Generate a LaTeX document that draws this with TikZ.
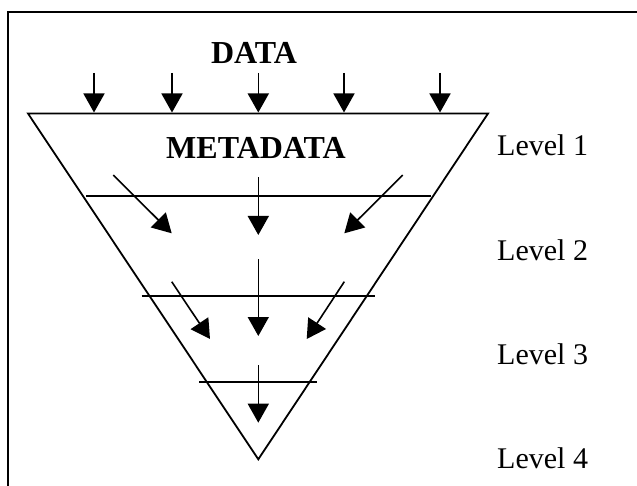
\documentclass[tikz,border=0pt]{standalone}
\usepackage{fontspec}
\setmainfont{Liberation Serif}
\usetikzlibrary{arrows.meta}
\begin{document}
\begin{tikzpicture}[x=1pt,y=-1pt,
  frame/.style={line width=2pt},
  edge/.style={line width=1.8pt,line join=miter},
  flow/.style={line width=1.6pt,-{Triangle[length=19pt,width=21pt]}},
  title/.style={font=\fontsize{32}{38}\selectfont\bfseries,inner sep=0pt,anchor=base},
  lvl/.style={font=\fontsize{30}{36}\selectfont,inner sep=0pt,anchor=base west}]
\useasboundingbox (0,0) rectangle (637,486);
% frame (cropped box)
\coordinate (fb) at (8,486);
\coordinate (ftl) at (8,12);
\coordinate (ftr) at (637,12);
\draw[frame] (fb) -- (ftl) -- (ftr);
% funnel
\coordinate (TL) at (28,113.5);
\coordinate (TR) at (488,113.5);
\coordinate (AP) at (258.3,459.3);
\draw[edge] (TL) -- (TR) -- (AP) -- cycle;
% level separators
\coordinate (s2a) at (86,195.7);   \coordinate (s2b) at (430.7,195.7);
\coordinate (s3a) at (141.7,295.7); \coordinate (s3b) at (375,295.7);
\coordinate (s4a) at (199,381.7);  \coordinate (s4b) at (316.7,381.7);
\draw[edge] (s2a) -- (s2b);
\draw[edge] (s3a) -- (s3b);
\draw[edge] (s4a) -- (s4b);
% texts
\node[title] (data) at (254,64) {DATA};
\node[title] (meta) at (256,158.3) {METADATA};
\node[lvl] (l1) at (497,155.7) {Level 1};
\node[lvl] (l2) at (497,260.7) {Level 2};
\node[lvl] (l3) at (497,364) {Level 3};
\node[lvl] (l4) at (497,468.3) {Level 4};
% data arrows
\foreach \x [count=\i] in {94,172,258.3,344,440}{
  \coordinate (d\i s) at (\x,73);
  \coordinate (d\i e) at (\x,112.5);
  \draw[flow] (d\i s) -- (d\i e);
}
% level 1 -> 2
\coordinate (a1s) at (113.3,175);   \coordinate (a1e) at (171.7,233.3);
\coordinate (a2s) at (258.3,177.3); \coordinate (a2e) at (258.3,235);
\coordinate (a3s) at (402.7,175);   \coordinate (a3e) at (344.3,233.3);
\draw[flow] (a1s) -- (a1e);
\draw[flow] (a2s) -- (a2e);
\draw[flow] (a3s) -- (a3e);
% level 2 -> 3
\coordinate (b1s) at (171.7,281.7); \coordinate (b1e) at (210,339);
\coordinate (b2s) at (258.3,259.3); \coordinate (b2e) at (258.3,336);
\coordinate (b3s) at (344.3,281.7); \coordinate (b3e) at (306.7,339);
\draw[flow] (b1s) -- (b1e);
\draw[flow] (b2s) -- (b2e);
\draw[flow] (b3s) -- (b3e);
% level 3 -> 4
\coordinate (c1s) at (258.3,365); \coordinate (c1e) at (258.3,422.7);
\draw[flow] (c1s) -- (c1e);
\end{tikzpicture}
\end{document}
